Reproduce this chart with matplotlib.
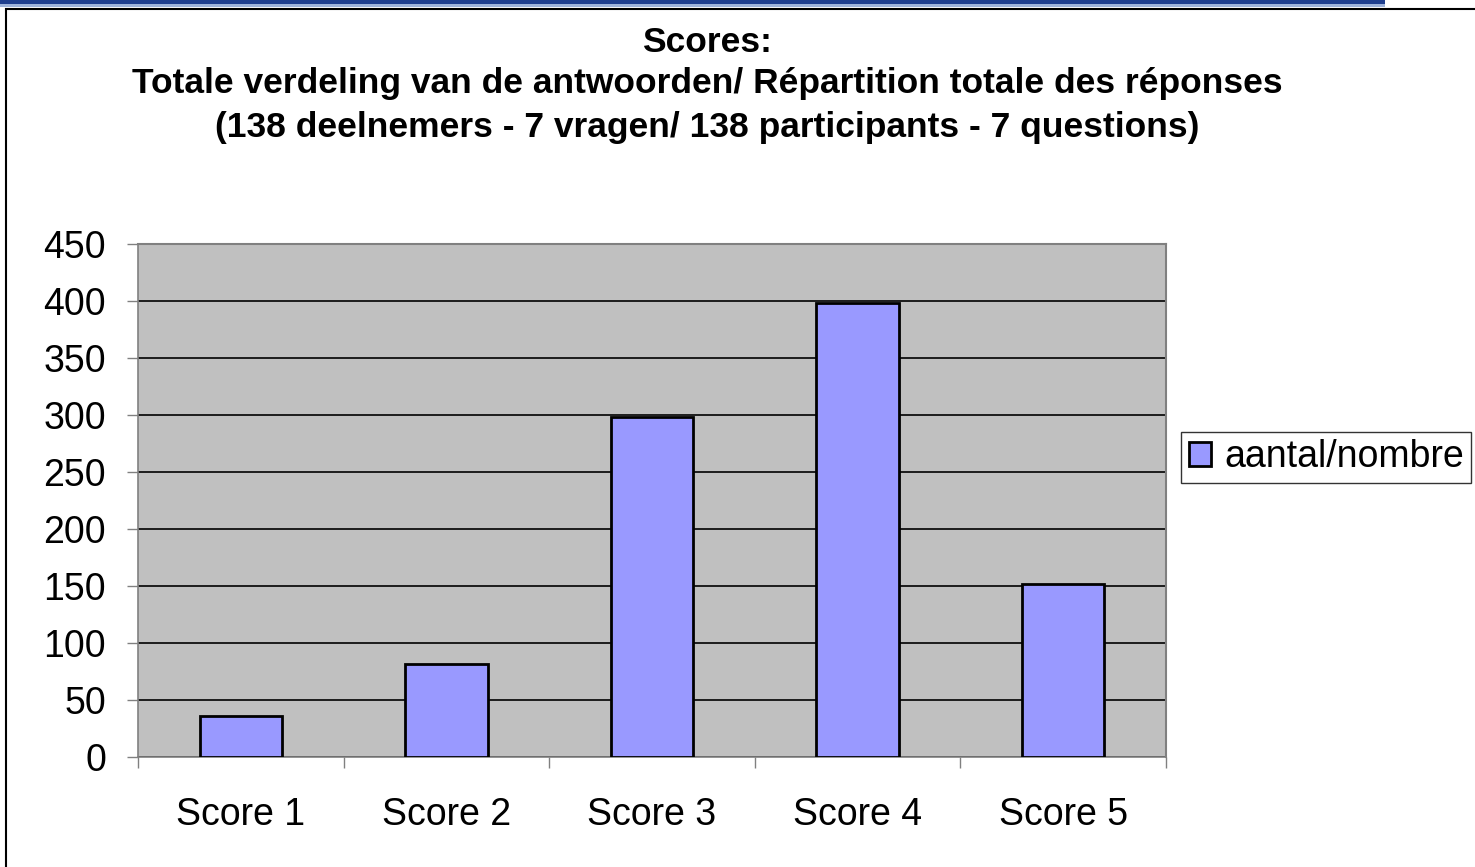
import matplotlib
matplotlib.use('Agg')
import matplotlib.pyplot as plt
from matplotlib.patches import Rectangle
import numpy as np

# ── 데이터 ───────────────────────────────────────────────
categories  = ['Score 1', 'Score 2', 'Score 3', 'Score 4', 'Score 5']
counts      = [36, 82, 298, 398, 152]
series      = 'aantal/nombre'
title_lines = ['Scores:',
               'Totale verdeling van de antwoorden/ Répartition totale des réponses',
               '(138 deelnemers - 7 vragen/ 138 participants - 7 questions)']

plt.rcParams['font.family'] = ['Liberation Sans', 'DejaVu Sans']

W, H = 1475, 867
fig = plt.figure(figsize=(W / 100, H / 100), dpi=100)
fig.patch.set_facecolor('white')

# ── 위쪽 띠 + 차트 테두리 ────────────────────────────────
fig.add_artist(Rectangle((0, 1 - 4 / H), 1385 / W, 4 / H, transform=fig.transFigure,
                         facecolor='#1f3f8f', edgecolor='none'))
fig.add_artist(Rectangle((0, 1 - 7 / H), 1385 / W, 3 / H, transform=fig.transFigure,
                         facecolor='#9fb4dc', edgecolor='none'))
fig.add_artist(Rectangle((6 / W, -0.01), 1.1, 1 - 9 / H + 0.01, transform=fig.transFigure,
                         facecolor='none', edgecolor='black', linewidth=1.5))

# ── 축 ───────────────────────────────────────────────────
ax = fig.add_axes([138 / W, (H - 757) / H, (1166 - 138) / W, (757 - 244) / H])
ax.set_facecolor('#c0c0c0')

x = np.arange(len(categories))
ax.bar(x, counts, width=0.40, color='#9999ff', edgecolor='black', linewidth=2,
       label=series, zorder=3)

ax.set_xlim(-0.5, len(categories) - 0.5)
ax.set_ylim(0, 450)
ax.set_yticks(np.arange(0, 451, 50))
ax.yaxis.grid(True, color='black', linewidth=1.2, zorder=1)
ax.set_axisbelow(True)

ax.set_xticks(x)
ax.set_xticklabels(categories)
ax.set_xticks(np.arange(-0.5, len(categories), 1), minor=True)
ax.tick_params(axis='x', which='major', length=0, pad=29, labelsize=27)
ax.tick_params(axis='x', which='minor', length=8, width=1, color='#808080')
ax.tick_params(axis='y', length=8, width=1, color='#808080', labelsize=27, pad=15)

for s in ['top', 'right']:
    ax.spines[s].set_color('#808080')
    ax.spines[s].set_linewidth(1.5)
for s in ['left', 'bottom']:
    ax.spines[s].set_color('#808080')
    ax.spines[s].set_linewidth(1.2)

# 제목: 줄마다 따로 배치 (줄 간격 맞춤)
for line, yc in zip(title_lines, [42, 84, 127]):
    fig.text(707 / W, 1 - yc / H, line, ha='center', va='center', fontsize=25.5,
             fontweight='bold')

leg = fig.legend(loc='center left', bbox_to_anchor=(1181 / W, 1 - 457 / H),
                 fontsize=27, frameon=True, fancybox=False, edgecolor='black',
                 handlelength=0.6, handleheight=0.6, handletextpad=0.35,
                 borderpad=0.2, borderaxespad=0)
leg.get_frame().set_linewidth(1)

fig.savefig('out.png', dpi=100)
